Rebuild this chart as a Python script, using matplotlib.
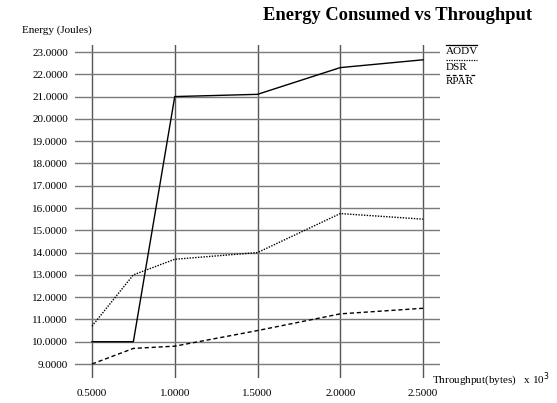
import matplotlib
matplotlib.use("Agg")
import matplotlib.pyplot as plt
from matplotlib.lines import Line2D

throughput = [0.5, 0.75, 1.0, 1.5, 2.0, 2.5]
aodv = [10.0, 10.0, 21.0, 21.1, 22.3, 22.65]
dsr = [10.7, 13.0, 13.7, 14.0, 15.75, 15.5]
rpar = [9.0, 9.7, 9.8, 10.5, 11.25, 11.5]
xticks = [0.5, 1.0, 1.5, 2.0, 2.5]
yticks = [9, 10, 11, 12, 13, 14, 15, 16, 17, 18, 19, 20, 21, 22, 23]
series_names = ["AODV", "DSR", "RPAR"]

plt.rcParams['font.family'] = ['Liberation Serif', 'DejaVu Serif']

W, H = 557, 403
fig = plt.figure(figsize=(W / 100, H / 100), dpi=100)
L, R, T, B = 75, 440, 45, 378
ax = fig.add_axes([L / W, 1 - B / H, (R - L) / W, (B - T) / H])

xpx = (423 - 92) / 2.0
ypx = (364 - 52) / 14.0
ax.set_xlim(0.5 - (92 - L) / xpx, 2.5 + (R - 423) / xpx)
ax.set_ylim(9 - (B - 364) / ypx, 23 + (52 - T) / ypx)

for s in ax.spines.values():
    s.set_visible(False)

for xv in xticks:
    ax.axvline(xv, color='#555555', lw=1.0, zorder=1)
for yv in yticks:
    ax.axhline(yv, color='#7a7a7a', lw=1.0, zorder=1)

ax.plot(throughput, aodv, color='black', lw=1.0, ls='-', zorder=3)
ax.plot(throughput, dsr, color='black', lw=1.0, ls=(0, (1, 1)), zorder=3)
ax.plot(throughput, rpar, color='black', lw=1.0, ls=(0, (3, 2)), zorder=3)

ax.set_xticks(xticks)
ax.set_xticklabels([f"{v:.4f}" for v in xticks])
ax.set_yticks(yticks)
ax.set_yticklabels([f"{v:.4f}" for v in yticks])
ax.tick_params(length=0, labelsize=8)
ax.tick_params(axis='x', pad=8)
ax.tick_params(axis='y', pad=5)

fig.text(263 / W, 1 - 15 / H, "Energy Consumed vs Throughput", ha='left', va='center',
         fontsize=13.3, fontweight='bold')
fig.text(22 / W, 1 - 30 / H, "Energy (Joules)", ha='left', va='center', fontsize=8)
fig.text(432 / W, 1 - 380 / H, "Throughput(bytes)   x 10$^3$", ha='left', va='center', fontsize=8)

styles = ['-', (0, (1, 1)), (0, (3, 2))]
for i, (name, st) in enumerate(zip(series_names, styles)):
    ty = 52 + i * 15
    fig.text(446 / W, 1 - ty / H, name, ha='left', va='center', fontsize=8)
    fig.add_artist(Line2D([446 / W, 477 / W], [1 - (ty - 7) / H, 1 - (ty - 7) / H],
                          color='black', lw=0.9, ls=st, transform=fig.transFigure))

fig.savefig("out.png", dpi=100)
